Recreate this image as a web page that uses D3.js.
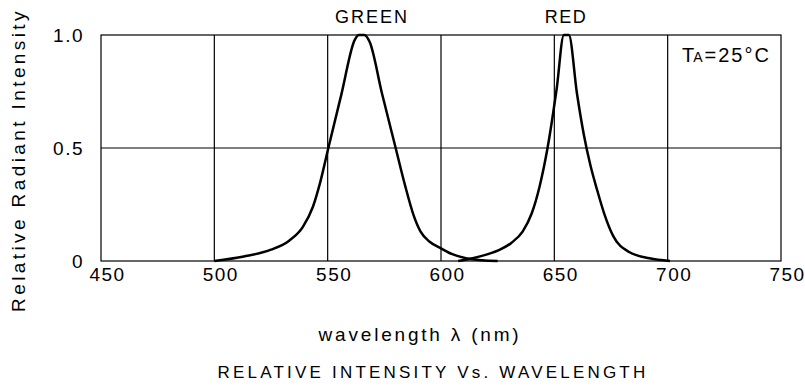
<!DOCTYPE html>
<html>
<head>
<meta charset="utf-8">
<script src="https://cdn.jsdelivr.net/npm/d3@7"></script>
<style>
  body { margin: 0; background: #fff; }
  text { font-family: "Liberation Sans", "DejaVu Sans", sans-serif; fill: #000; }
</style>
</head>
<body>
<div id="root"></div>
<script>
// wavelength (nm) vs relative intensity
const greenWl = [500, 513, 525, 533, 539, 543.5, 546.5, 550.3, 556, 562, 563.8, 566.2, 568.5, 574, 580, 584, 588, 591, 595, 600, 605, 611, 618, 625];
const greenVal = [0, 0.02, 0.05, 0.09, 0.15, 0.24, 0.34, 0.5, 0.735, 0.98, 1.0, 1.0, 0.97, 0.74, 0.5, 0.34, 0.2, 0.13, 0.085, 0.056, 0.03, 0.012, 0.003, 0];
const redWl = [607.6, 614, 620, 626, 631, 636, 640, 643.5, 647, 651, 654.2, 656.4, 660, 663, 666, 669, 672, 676, 683, 692, 701];
const redVal = [0, 0.012, 0.028, 0.05, 0.08, 0.13, 0.21, 0.33, 0.5, 0.76, 1.0, 1.0, 0.74, 0.56, 0.42, 0.31, 0.21, 0.11, 0.04, 0.012, 0];
const xTicks = [450, 500, 550, 600, 650, 700, 750];
const yTicks = [0, 0.5, 1.0];
const yTickLabels = ["0", "0.5", "1.0"];

const width = 805, height = 387;
const plotL = 101, plotR = 781, plotT = 35, plotB = 261;

const svg = d3.select("#root").append("svg")
    .attr("width", width)
    .attr("height", height);

const x = d3.scaleLinear().domain([450, 750]).range([plotL, plotR]);
const y = d3.scaleLinear().domain([0, 1]).range([plotB, plotT]);

// grid
const grid = svg.append("g").attr("stroke", "#000").attr("stroke-width", 1.2);
grid.selectAll("line.v")
    .data(xTicks.slice(1, -1))
    .join("line")
      .attr("x1", d => x(d)).attr("x2", d => x(d))
      .attr("y1", plotT).attr("y2", plotB);
grid.append("line")
    .attr("x1", plotL).attr("x2", plotR)
    .attr("y1", y(0.5)).attr("y2", y(0.5));
grid.append("rect")
    .attr("x", plotL).attr("y", plotT)
    .attr("width", plotR - plotL).attr("height", plotB - plotT)
    .attr("fill", "none");

// axes (labels only, no tick marks)
const xAxis = svg.append("g")
    .attr("transform", `translate(6, ${plotB})`)
    .call(d3.axisBottom(x).tickValues(xTicks).tickSize(0).tickPadding(7).tickFormat(d3.format("d")));
xAxis.select(".domain").remove();
xAxis.selectAll("text")
    .attr("font-size", 19)
    .attr("font-family", "Liberation Sans, DejaVu Sans, sans-serif")
    .attr("letter-spacing", 1.5);

const yAxis = svg.append("g")
    .attr("transform", `translate(84, 0)`)
    .call(d3.axisLeft(y).tickValues(yTicks).tickSize(0).tickPadding(0)
      .tickFormat((d, i) => yTickLabels[i]));
yAxis.select(".domain").remove();
yAxis.selectAll("text")
    .attr("font-size", 19)
    .attr("font-family", "Liberation Sans, DejaVu Sans, sans-serif")
    .attr("letter-spacing", 1.5);

// curves
const line = d3.line()
    .x(d => x(d[0]))
    .y(d => y(d[1]))
    .curve(d3.curveMonotoneX);

const series = [
  d3.zip(greenWl, greenVal),
  d3.zip(redWl, redVal)
];

svg.append("g")
  .selectAll("path")
  .data(series)
  .join("path")
    .attr("d", line)
    .attr("fill", "none")
    .attr("stroke", "#000")
    .attr("stroke-width", 2.5)
    .attr("stroke-linejoin", "round");

// peak labels
svg.append("text")
    .attr("x", 372).attr("y", 23)
    .attr("text-anchor", "middle")
    .attr("font-size", 18)
    .attr("letter-spacing", 2)
    .text("GREEN");
svg.append("text")
    .attr("x", 566).attr("y", 23)
    .attr("text-anchor", "middle")
    .attr("font-size", 18)
    .attr("letter-spacing", 1.5)
    .text("RED");

// temperature note
const note = svg.append("text")
    .attr("x", 682).attr("y", 62)
    .attr("font-size", 20);
note.append("tspan").text("T");
note.append("tspan").attr("font-size", 14).attr("dx", -1).text("A");
note.append("tspan").attr("dx", 2).attr("font-size", 20).attr("letter-spacing", 2).text("=25°C");

// axis titles
svg.append("text")
    .attr("x", 420).attr("y", 341)
    .attr("text-anchor", "middle")
    .attr("font-size", 19)
    .attr("letter-spacing", 2.8)
    .text("wavelength λ (nm)");

svg.append("text")
    .attr("x", 433).attr("y", 378)
    .attr("text-anchor", "middle")
    .attr("font-size", 17)
    .attr("letter-spacing", 3.2)
    .text("RELATIVE INTENSITY Vs. WAVELENGTH");

svg.append("text")
    .attr("transform", "translate(25, 160) rotate(-90)")
    .attr("text-anchor", "middle")
    .attr("font-size", 19)
    .attr("letter-spacing", 3.4)
    .text("Relative Radiant Intensity");
</script>
</body>
</html>
